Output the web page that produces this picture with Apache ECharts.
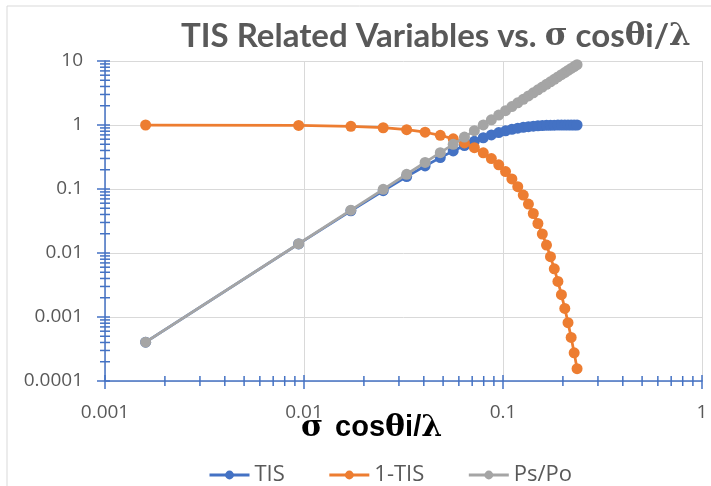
<!DOCTYPE html>
<html>
<head>
<meta charset="utf-8">
<script src="https://cdn.jsdelivr.net/npm/echarts@6/dist/echarts.min.js"></script>
<style>
    html, body { margin: 0; padding: 0; background: #fff; }
    #main { width: 711px; height: 486px; }
</style>
</head>
<body>
<div id="main"></div>
<script>
// x = sigma cos(theta_i) / lambda
const xValues = [0.0016, 0.0094, 0.0172, 0.0250, 0.0328, 0.0406, 0.0484, 0.0562, 0.0640, 0.0718,
    0.0796, 0.0874, 0.0952, 0.1030, 0.1108, 0.1186, 0.1264, 0.1342, 0.1420, 0.1498,
    0.1576, 0.1654, 0.1732, 0.1810, 0.1888, 0.1966, 0.2044, 0.2122, 0.2200, 0.2278, 0.2356];
const tisValues = [0.000404, 0.01386, 0.04564, 0.09398, 0.1562, 0.2291, 0.3092, 0.3927, 0.4763, 0.5570,
    0.6323, 0.7007, 0.7610, 0.8127, 0.8561, 0.8915, 0.9198, 0.9418, 0.9586, 0.9711,
    0.9802, 0.9867, 0.9912, 0.9943, 0.9964, 0.9978, 0.9986, 0.9992, 0.9995, 0.9997, 0.9998];
const oneMinusTis = [0.9996, 0.9861, 0.9544, 0.9060, 0.8438, 0.7709, 0.6908, 0.6073, 0.5237, 0.4430,
    0.3677, 0.2993, 0.2390, 0.1873, 0.1439, 0.1085, 0.08024, 0.05820, 0.04141, 0.02891,
    0.01980, 0.01330, 0.008763, 0.005664, 0.003591, 0.002233, 0.001362, 0.000816, 0.000479, 0.000276, 0.000156];
const psPo = [0.000404, 0.01395, 0.04672, 0.09870, 0.1699, 0.2603, 0.3699, 0.4988, 0.6468, 0.8141,
    1.0006, 1.2063, 1.4312, 1.6753, 1.9387, 2.2212, 2.5230, 2.8440, 3.1842, 3.5436,
    3.9222, 4.3201, 4.7372, 5.1734, 5.6289, 6.1036, 6.5976, 7.1107, 7.6431, 8.1946, 8.7654];
const seriesNames = ['TIS', '1-TIS', 'Ps/Po'];
const seriesColors = ['#4472C4', '#ED7D31', '#A5A5A5'];

const xMin = 0.001, xMax = 1;
const yMin = 0.0001, yMax = 10;

const pair = (ys) => xValues.map((x, i) => [x, ys[i]]);

// log axis ticks at 1..9 x each decade, drawn crossing the axis lines
const logTicks = (lo, hi) => {
    const out = [];
    for (let d = lo; d < hi * 1.0001; d *= 10) {
        out.push([+d.toPrecision(1), 1]);
        if (d * 10 > hi * 1.0001) break;
        for (let m = 2; m <= 9; m++) out.push([+(d * m).toPrecision(1), 0]);
    }
    return out;
};
const xTicks = logTicks(xMin, xMax).map(t => [t[0], yMin, t[1]]);
const yTicks = logTicks(yMin, yMax).map(t => [xMin, t[0], t[1]]);

const tickStyle = { stroke: '#4472C4', lineWidth: 1.5 };

const fmt = v => String(+Number(v).toPrecision(1));

const chart = echarts.init(document.getElementById('main'));
const lineSeries = [tisValues, oneMinusTis, psPo].map((ys, i) => ({
    name: seriesNames[i],
    type: 'line',
    data: pair(ys),
    symbol: 'circle',
    symbolSize: 11,
    showAllSymbol: true,
    lineStyle: { color: seriesColors[i], width: 2.75 },
    itemStyle: { color: seriesColors[i] },
    z: 3 + i
}));

chart.setOption({
    animation: false,
    color: seriesColors,
    title: [{
        text: '{a|TIS Related Variables vs. }{g|σ}{a| cos}{g|θ}{a|i/}{g|λ}',
        left: 176,
        top: 15,
        textStyle: {
            rich: {
                a: { fontFamily: 'Lato', fontWeight: 'bold', fontSize: 33, color: '#595959' },
                g: { fontFamily: 'DejaVu Serif', fontSize: 31, color: '#595959' }
            }
        }
    }, {
        text: '{g|σ}{sp|}{a|cos}{g|θ}{a|i/}{g|λ}',
        left: 296,
        top: 408,
        textStyle: {
            rich: {
                a: { fontFamily: 'Liberation Sans', fontWeight: 'bold', fontSize: 29, color: '#000' },
                g: { fontFamily: 'DejaVu Serif', fontWeight: 'bold', fontSize: 30, color: '#000' },
                sp: { width: 12, fontSize: 29 }
            }
        }
    }],
    graphic: [{
        type: 'rect',
        shape: { x: 7, y: 6, width: 760, height: 540 },
        style: { fill: 'none', stroke: '#D9D9D9', lineWidth: 1 },
        silent: true
    }],
    legend: {
        data: seriesNames,
        top: 459,
        left: 203,
        itemWidth: 40,
        itemHeight: 11,
        itemGap: 43,
        lineStyle: { width: 3 },
        textStyle: { fontFamily: 'Open Sans', fontSize: 22, color: '#595959' }
    },
    grid: { left: 105, right: 9, top: 61, bottom: 105 },
    xAxis: {
        type: 'log',
        logBase: 10,
        min: xMin,
        max: xMax,
        axisLine: { show: true, lineStyle: { color: '#4472C4', width: 1.5 } },
        axisTick: { show: false },
        splitLine: { show: true, lineStyle: { color: '#D9D9D9', width: 1 } },
        axisLabel: {
            margin: 22,
            fontFamily: 'Open Sans',
            fontSize: 19,
            color: '#595959',
            formatter: fmt
        }
    },
    yAxis: {
        type: 'log',
        logBase: 10,
        min: yMin,
        max: yMax,
        axisLine: { show: true, lineStyle: { color: '#4472C4', width: 1.5 } },
        axisTick: { show: false },
        splitLine: { show: true, lineStyle: { color: '#D9D9D9', width: 1 } },
        axisLabel: {
            margin: 22,
            fontFamily: 'Open Sans',
            fontSize: 19,
            color: '#595959',
            formatter: fmt
        }
    },
    series: lineSeries.concat([{
        type: 'custom',
        silent: true,
        data: xTicks,
        z: 10,
        renderItem: (params, api) => {
            const p = api.coord([api.value(0), api.value(1)]);
            const major = api.value(2);
            return {
                type: 'line',
                shape: { x1: p[0], y1: p[1] - (major ? 6 : 5), x2: p[0], y2: p[1] + (major ? 8 : 5) },
                style: tickStyle
            };
        }
    }, {
        type: 'custom',
        silent: true,
        data: yTicks,
        z: 10,
        renderItem: (params, api) => {
            const p = api.coord([api.value(0), api.value(1)]);
            const major = api.value(2);
            return {
                type: 'line',
                shape: { x1: p[0] - (major ? 8 : 5), y1: p[1], x2: p[0] + 5, y2: p[1] },
                style: tickStyle
            };
        }
    }])
});
</script>
</body>
</html>
